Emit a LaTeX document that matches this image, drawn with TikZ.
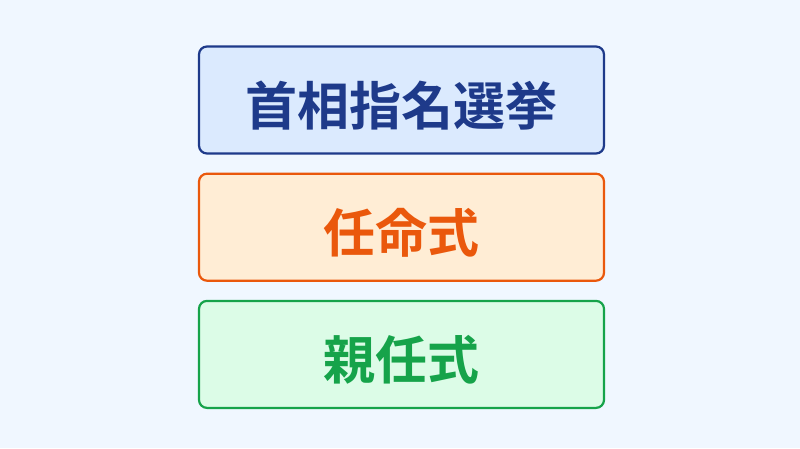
\documentclass[tikz,border=0pt]{standalone}
\usepackage{fontspec}
\newfontfamily\jpfont{Noto Sans CJK JP Bold}
\usetikzlibrary{positioning}
\definecolor{bgcol}{HTML}{F0F7FF}
\definecolor{blueline}{HTML}{1E3A8A}
\definecolor{bluefill}{HTML}{DBEAFE}
\definecolor{orangeline}{HTML}{EA580C}
\definecolor{orangefill}{HTML}{FFEDD5}
\definecolor{greenline}{HTML}{16A34A}
\definecolor{greenfill}{HTML}{DCFCE7}

\tikzset{
  stagebox/.style={draw, line width=2.2pt, rounded corners=8pt,
    minimum width=405pt, minimum height=107pt, inner sep=0pt,
    text height=50pt, text depth=0pt,
    font=\jpfont\fontsize{52}{60}\selectfont},
}

\begin{document}
\begin{tikzpicture}[x=1pt,y=1pt]
  \fill[bgcol] (0,0) rectangle (800,448);
  \useasboundingbox (0,0) rectangle (800,448);

  \node[stagebox, draw=blueline, fill=bluefill, text=blueline] (vote) at (401.5,348) {首相指名選挙};
  \node[stagebox, draw=orangeline, fill=orangefill, text=orangeline, below=18pt of vote] (appoint) {任命式};
  \node[stagebox, draw=greenline, fill=greenfill, text=greenline, below=18pt of appoint] (attest) {親任式};
\end{tikzpicture}
\end{document}
